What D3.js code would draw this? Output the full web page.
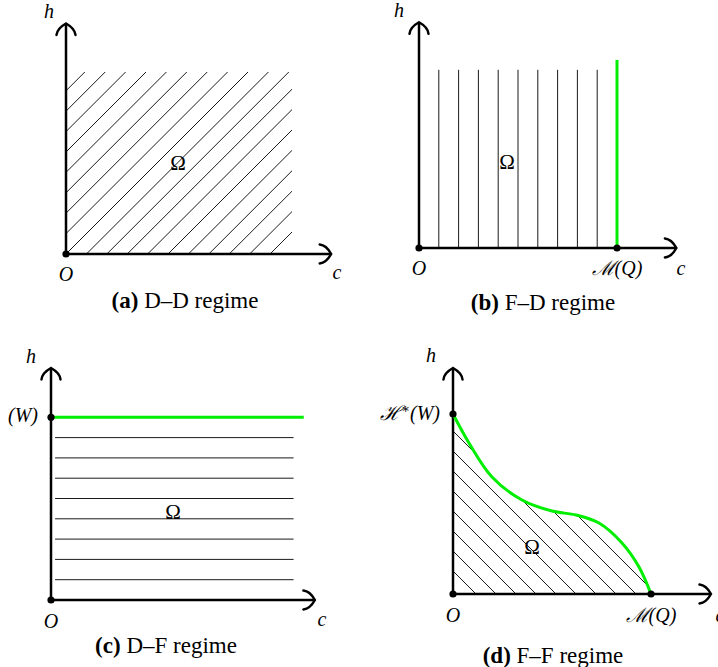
<!DOCTYPE html>
<meta charset="utf-8">
<style>
body, html {
  padding: 0;
  margin: 0;
  background: #fff;
}
.axis { fill: none; stroke: #000; stroke-width: 2.5px; }
.hatch { stroke: #000; stroke-width: 0.9px; }
.bound { fill: none; stroke: #00ee00; stroke-width: 3px; }
.math { font: italic 20px "Liberation Serif", "DejaVu Serif", serif; }
.omega { font: 21px "Liberation Serif", "DejaVu Serif", serif; }
.caption { font: 23px "Liberation Serif", "DejaVu Serif", serif; }
</style>
<body>
<script src="https://d3js.org/d3.v7.min.js"></script>
<script>

var width = 718,
    height = 667

// (a) D-D regime: hatched rectangle, lines c - h = k
var ddRegion = [11.08, 8.92]
var ddHatch = [-8, -7, -6, -5, -4, -3, -2, -1, 0, 1, 2, 3, 4, 5, 6, 7, 8, 9, 10]

// (b) F-D regime: vertical lines, green boundary at c = M(Q)
var fdLines = [1, 2, 3, 4, 5, 6, 7, 8, 9]
var fdTop = 9
var fdM = 10
var fdGreenTop = 9.5

// (c) D-F regime: horizontal lines, green boundary at h = H(W)
var dfLines = [1, 2, 3, 4, 5, 6, 7, 8]
var dfSpan = [0.2, 11.95]
var dfW = 9
var dfGreenEnd = 12.45

// (d) F-F regime: curved boundary, lines c + h = k
var ffCurve = [[0, 9], [0.8, 7.55], [1.95, 5.85], [3.45, 4.7], [4.95, 4.15], [6.15, 3.95],
               [7.3, 3.55], [8.45, 2.55], [9.3, 1.35], [9.9, 0]]
var ffHatch = [1.15, 2.15, 3.15, 4.15, 5.15, 6.15, 7.15, 8.15, 9.15, 10.15]

var captions = [["(a)", " D–D regime"], ["(b)", " F–D regime"], ["(c)", " D–F regime"], ["(d)", " F–F regime"]]

var svg = d3.select("body").append("svg")
    .attr("width", width)
    .attr("height", height)

var defs = svg.append("defs")

function panel (ox, oy, unit, xLen, yLen) {
  var x = d3.scaleLinear().domain([0, xLen]).range([ox, ox + xLen * unit])
  var y = d3.scaleLinear().domain([0, yLen]).range([oy, oy - yLen * unit])
  return {x: x, y: y, xLen: xLen, yLen: yLen, g: svg.append("g")}
}

function arrowHead (g, tx, ty, angle) {
  g.append("path")
    .attr("class", "axis")
    .attr("stroke-linecap", "round")
    .attr("transform", "translate(" + tx + "," + ty + ") rotate(" + angle + ")")
    .attr("d", "M-9.5,11.5 C-9,6 -4.5,2.5 0,0 C4.5,2.5 9,6 9.5,11.5")
}

function axes (p) {
  var ox = p.x(0), oy = p.y(0)
  p.g.append("line").attr("class", "axis")
    .attr("x1", ox).attr("y1", oy).attr("x2", ox).attr("y2", p.y(p.yLen))
  p.g.append("line").attr("class", "axis")
    .attr("x1", ox).attr("y1", oy).attr("x2", p.x(p.xLen)).attr("y2", oy)
  arrowHead(p.g, ox, p.y(p.yLen), 0)
  arrowHead(p.g, p.x(p.xLen), oy, 90)
}

function dot (p, c, h) {
  p.g.append("circle").attr("cx", p.x(c)).attr("cy", p.y(h)).attr("r", 3.6).attr("fill", "#000")
}

function label (p, px, py, text, cls, anchor) {
  return p.g.append("text")
    .attr("class", cls || "math")
    .attr("x", px).attr("y", py)
    .attr("text-anchor", anchor || "middle")
    .text(text)
}

function caption (cx, cy, parts) {
  var t = svg.append("text").attr("class", "caption").attr("x", cx).attr("y", cy).attr("text-anchor", "middle")
  t.append("tspan").attr("font-weight", "bold").text(parts[0])
  t.append("tspan").text(parts[1])
}

// ---------- (a)
var pa = panel(66, 254, 20.4, 13, 11.3)
defs.append("clipPath").attr("id", "clipA").append("rect")
    .attr("x", pa.x(0)).attr("y", pa.y(ddRegion[1]))
    .attr("width", pa.x(ddRegion[0]) - pa.x(0)).attr("height", pa.y(0) - pa.y(ddRegion[1]))
pa.g.append("g").attr("clip-path", "url(#clipA)")
  .selectAll("line").data(ddHatch).enter().append("line")
    .attr("class", "hatch")
    .attr("x1", function(k) { return pa.x(k - 20) }).attr("y1", pa.y(-20))
    .attr("x2", function(k) { return pa.x(k + 20) }).attr("y2", pa.y(20))
axes(pa)
dot(pa, 0, 0)
label(pa, 178, 170, "Ω", "omega")
label(pa, 49, 18, "h")
label(pa, 66, 281, "O")
label(pa, 337, 279, "c")
caption(185, 308, captions[0])

// ---------- (b)
var pb = panel(419, 248, 19.8, 13, 11.4)
pb.g.selectAll("line.hatch").data(fdLines).enter().append("line")
    .attr("class", "hatch")
    .attr("x1", function(c) { return pb.x(c) }).attr("y1", pb.y(0))
    .attr("x2", function(c) { return pb.x(c) }).attr("y2", pb.y(fdTop))
axes(pb)
pb.g.append("line").attr("class", "bound")
    .attr("x1", pb.x(fdM)).attr("y1", pb.y(0)).attr("x2", pb.x(fdM)).attr("y2", pb.y(fdGreenTop))
dot(pb, 0, 0)
dot(pb, fdM, 0)
label(pb, 507, 169, "Ω", "omega")
label(pb, 399, 17, "h")
label(pb, 419, 275, "O")
var mb = label(pb, 617, 275, "ℳ(", "math")
mb.append("tspan").text("Q")
mb.append("tspan").text(")")
label(pb, 681, 275, "c")
caption(543, 310, captions[1])

// ---------- (c)
var pc = panel(51, 600, 20.3, 13, 11.43)
pc.g.selectAll("line.hatch").data(dfLines).enter().append("line")
    .attr("class", "hatch")
    .attr("x1", pc.x(dfSpan[0])).attr("y1", function(h) { return pc.y(h) })
    .attr("x2", pc.x(dfSpan[1])).attr("y2", function(h) { return pc.y(h) })
axes(pc)
pc.g.append("line").attr("class", "bound")
    .attr("x1", pc.x(0)).attr("y1", pc.y(dfW)).attr("x2", pc.x(dfGreenEnd)).attr("y2", pc.y(dfW))
dot(pc, 0, 0)
dot(pc, 0, dfW)
label(pc, 173, 519, "Ω", "omega")
label(pc, 31, 363, "h")
label(pc, 38, 422, "(W)", "math", "end")
label(pc, 51, 628, "O")
label(pc, 322, 626, "c")
caption(166, 653, captions[2])

// ---------- (d)
var pd = panel(453, 594, 20, 12.9, 11.3)
var curve = d3.curveCatmullRom.alpha(0.5)
var area = d3.area()
    .x(function(d) { return pd.x(d[0]) })
    .y0(pd.y(0))
    .y1(function(d) { return pd.y(d[1]) })
    .curve(curve)
defs.append("clipPath").attr("id", "clipD").append("path").attr("d", area(ffCurve))
pd.g.append("g").attr("clip-path", "url(#clipD)")
  .selectAll("line").data(ffHatch).enter().append("line")
    .attr("class", "hatch")
    .attr("x1", function(k) { return pd.x(k + 5) }).attr("y1", pd.y(-5))
    .attr("x2", function(k) { return pd.x(-5) }).attr("y2", function(k) { return pd.y(k + 5) })
axes(pd)
pd.g.append("path").attr("class", "bound")
    .attr("d", d3.line().x(function(d) { return pd.x(d[0]) }).y(function(d) { return pd.y(d[1]) }).curve(curve)(ffCurve))
dot(pd, 0, 0)
dot(pd, 0, ffCurve[0][1])
dot(pd, ffCurve[ffCurve.length - 1][0], 0)
label(pd, 532, 554, "Ω", "omega")
label(pd, 431, 362, "h")
var hd = label(pd, 440, 420, "ℋ", "math", "end")
hd.append("tspan").attr("font-size", "13px").attr("dy", -7).text("∗")
hd.append("tspan").attr("dy", 7).text("(W)")
label(pd, 453, 622, "O")
var md = label(pd, 651, 622, "ℳ(", "math")
md.append("tspan").text("Q")
md.append("tspan").text(")")
label(pd, 720, 622, "c")
caption(553, 663, captions[3])

</script>
</body>
